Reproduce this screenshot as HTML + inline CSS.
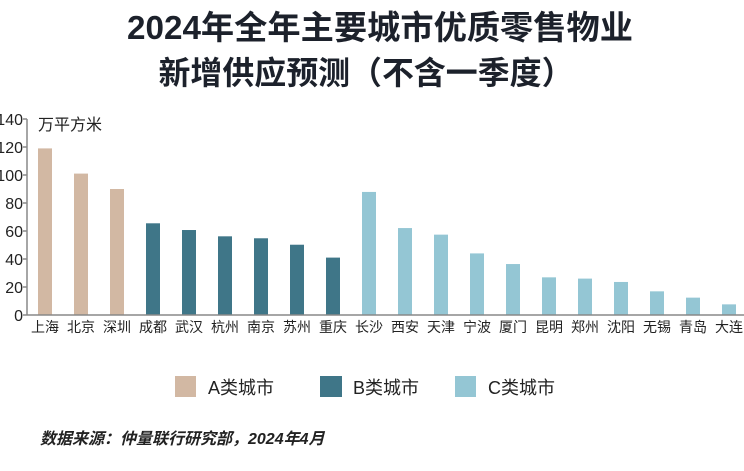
<!DOCTYPE html>
<html><head><meta charset="utf-8"><style>
body{margin:0;background:#fff;width:744px;height:466px;overflow:hidden;font-family:"Liberation Sans","Noto Sans CJK SC",sans-serif;}
</style></head><body>
<svg width="744" height="466" xmlns="http://www.w3.org/2000/svg">
<text x="380" y="39" text-anchor="middle" font-size="33" font-weight="bold" fill="#1c212b" font-family="Liberation Sans,Noto Sans CJK SC,sans-serif" textLength="506" lengthAdjust="spacingAndGlyphs">2024年全年主要城市优质零售物业</text>
<text x="366" y="84" text-anchor="middle" font-size="32" font-weight="bold" fill="#1c212b" font-family="Noto Sans CJK SC,sans-serif" textLength="415" lengthAdjust="spacingAndGlyphs">新增供应预测（不含一季度）</text>
<text x="38" y="130" font-size="16" fill="#222" font-family="Noto Sans CJK SC,sans-serif">万平方米</text>
<g id="plot"></g>
<g>
<rect x="175" y="376" width="21" height="21" fill="#d2b8a3"/>
<text x="208" y="394" font-size="18" fill="#222" font-family="Liberation Sans,Noto Sans CJK SC,sans-serif">A类城市</text>
<rect x="320" y="376" width="22" height="21" fill="#3f7688"/>
<text x="353" y="394" font-size="18" fill="#222" font-family="Liberation Sans,Noto Sans CJK SC,sans-serif">B类城市</text>
<rect x="455" y="376" width="21" height="21" fill="#94c6d4"/>
<text x="488" y="394" font-size="18" fill="#222" font-family="Liberation Sans,Noto Sans CJK SC,sans-serif">C类城市</text>
</g>
<text x="40" y="444" font-size="16" font-style="italic" font-weight="bold" fill="#222" font-family="Liberation Sans,Noto Sans CJK SC,sans-serif">数据来源：仲量联行研究部，2024年4月</text>
</svg>
<script>
const categories=["上海","北京","深圳","成都","武汉","杭州","南京","苏州","重庆","长沙","西安","天津","宁波","厦门","昆明","郑州","沈阳","无锡","青岛","大连"];
const values=[119,101,90,65.5,60.7,56.2,54.8,50.2,41,87.9,62.1,57.4,44,36.4,26.9,26,23.6,16.9,12.4,7.6];
const groups=["A","A","A","B","B","B","B","B","B","C","C","C","C","C","C","C","C","C","C","C"];
const yTicks=[0,20,40,60,80,100,120,140];
const colors={A:"#d2b8a3",B:"#3f7688",C:"#94c6d4"};
const NS="http://www.w3.org/2000/svg";
const g=document.getElementById('plot');
const x0=27,y0=315,yTop=119,yMax=140,step=36,first=45,bw=14;
const y=v=>y0-(v/yMax)*(y0-yTop);
const x=i=>first+i*step;
function mk(t,a){const e=document.createElementNS(NS,t);for(const k in a)e.setAttribute(k,a[k]);g.appendChild(e);return e;}
let ax=mk('line',{x1:x0,y1:yTop,x2:x0,y2:y0,stroke:'#888','stroke-width':1.5});


yTicks.forEach(t=>{
 const tl=mk('line',{x1:x0-4,y1:y(t),x2:x0,y2:y(t),stroke:'#888','stroke-width':1.5});
 
 
 const tx=mk('text',{x:x0-4,y:y(t)+6,'text-anchor':'end','font-size':16,fill:'#222','font-family':'Liberation Sans,sans-serif'});
 tx.textContent=t;
 
 
});
values.forEach((v,i)=>{
 const r=mk('rect',{x:x(i)-bw/2,y:y(v),width:bw,height:y0-y(v),fill:colors[groups[i]]});
 
 
 const t=mk('text',{x:x(i),y:y0+17,'text-anchor':'middle','font-size':14,fill:'#222','font-family':'Noto Sans CJK SC,sans-serif'});
 t.textContent=categories[i];
 
 
});
const bl=mk('line',{x1:x0,y1:y0,x2:744,y2:y0,stroke:'#888','stroke-width':1.5});


</script>
</body></html>
